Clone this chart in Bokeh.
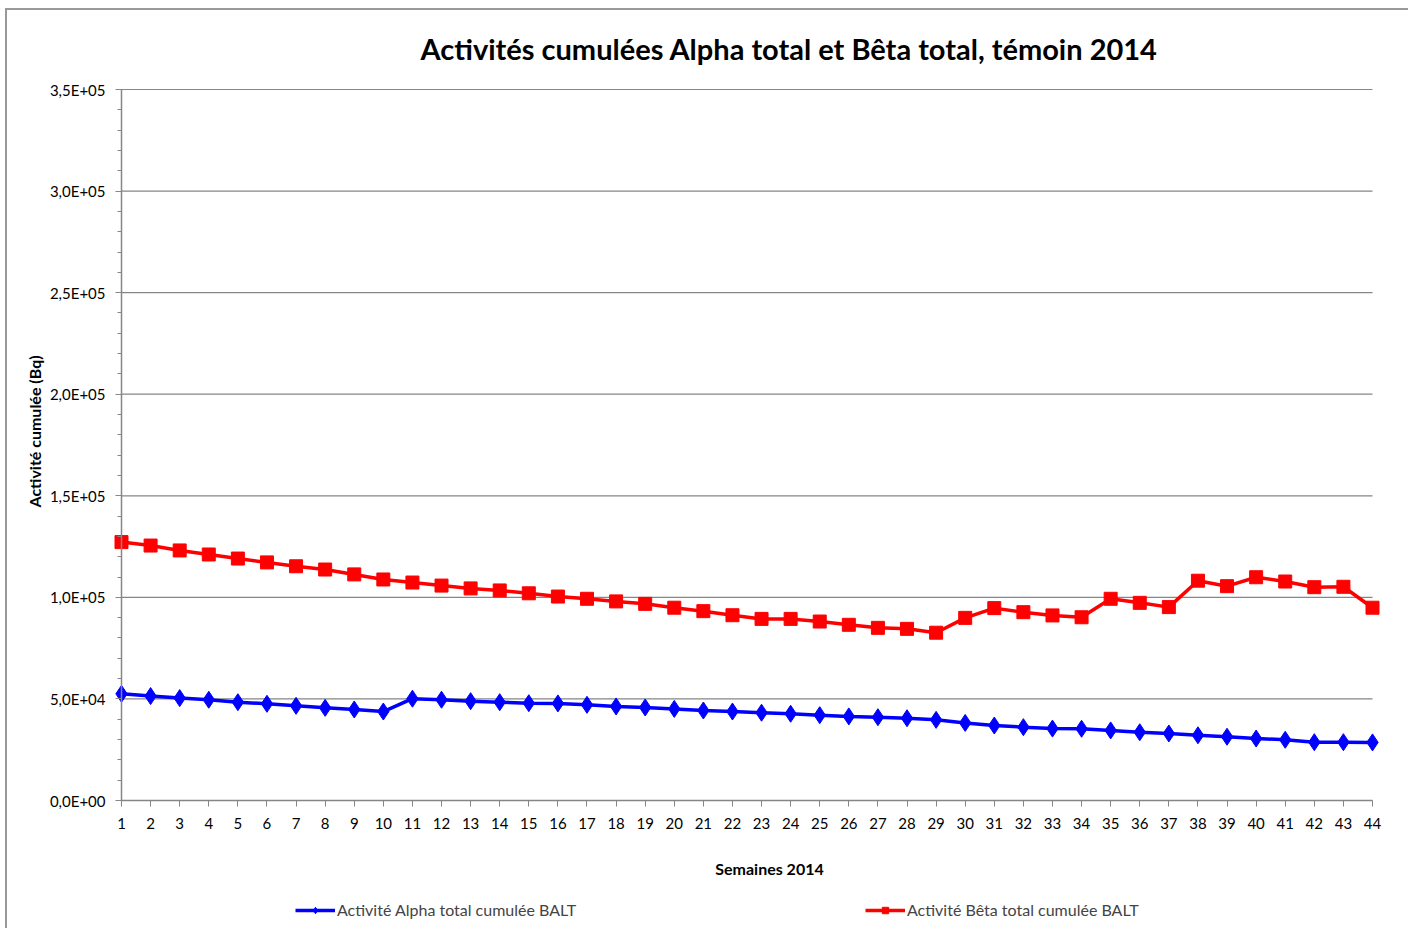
from bokeh.plotting import figure
from bokeh.models import FixedTicker, Legend, LegendItem, Range1d, Title, Label
from bokeh.embed import file_html
from bokeh.resources import INLINE

weeks = list(range(1, 45))
alpha = [52.5, 51.4, 50.4, 49.6, 48.4, 47.6, 46.6, 45.6, 44.8, 43.8,
         50.1, 49.6, 48.9, 48.4, 47.9, 47.8, 47.1, 46.3, 45.8, 45.1,
         44.3, 43.8, 43.2, 42.7, 42.0, 41.4, 41.0, 40.5, 39.7, 38.2,
         36.9, 36.1, 35.4, 35.3, 34.5, 33.6, 33.0, 32.1, 31.4, 30.5,
         29.9, 28.7, 28.7, 28.6]
beta = [127.2, 125.5, 123.1, 121.1, 119.1, 117.2, 115.3, 113.7, 111.3, 108.8,
        107.3, 105.8, 104.4, 103.4, 102.0, 100.4, 99.3, 98.0, 96.8, 94.9,
        93.2, 91.2, 89.4, 89.4, 88.1, 86.5, 85.0, 84.5, 82.6, 89.9,
        94.7, 92.7, 91.1, 90.2, 99.3, 97.3, 95.2, 108.2, 105.5, 109.9,
        107.8, 105.0, 105.2, 94.9]
alpha_bq = [v * 1000 for v in alpha]
beta_bq = [v * 1000 for v in beta]

y_ticks = [0, 50000, 100000, 150000, 200000, 250000, 300000, 350000]
y_tick_labels = ["0,0E+00", "5,0E+04", "1,0E+05", "1,5E+05", "2,0E+05",
                 "2,5E+05", "3,0E+05", "3,5E+05"]

title_text = "Activités cumulées Alpha total et Bêta total, témoin 2014"
x_label = "Semaines 2014"
y_label = "Activité cumulée (Bq)"
alpha_name = "Activité Alpha total cumulée BALT"
beta_name = "Activité Bêta total cumulée BALT"

FONT = "Lato"
GRAY = "#868686"

# ---- layout in pixels ----
W, H = 1408, 928
FRAME_L, FRAME_R, FRAME_T = 45, 1395, 76      # drawing area (unclipped zone)
AX_L, AX_R, AX_T, AX_B = 121, 1372, 89, 800   # axis box: weeks 1..44, 0..3.5e5
x_lo, x_hi = weeks[0], weeks[-1]
y_max = y_ticks[-1]
ppx = (AX_R - AX_L) / (x_hi - x_lo)
ppy = (AX_B - AX_T) / y_max
x_start = x_lo - (AX_L - FRAME_L) / ppx
x_end = x_hi + (FRAME_R - AX_R) / ppx
y_start = -(H - AX_B) / ppy
y_end = y_max + (AX_T - FRAME_T) / ppy

p = figure(width=W, height=H, output_backend="svg", toolbar_location=None,
           x_range=Range1d(x_start, x_end), y_range=Range1d(y_start, y_end),
           min_border_left=FRAME_L, min_border_right=W - FRAME_R,
           min_border_top=FRAME_T, min_border_bottom=0)
p.outline_line_color = None
p.background_fill_color = "white"
p.border_fill_alpha = 0
p.styles = {
    "background": "linear-gradient(#999, #999) 5px 8px / 2px 100% no-repeat, "
                  "linear-gradient(#999, #999) 5px 8px / 100% 2px no-repeat, white"
}

t = Title(text=title_text, align="left", offset=420 - FRAME_L, text_font=FONT,
          text_font_size="29px", text_font_style="bold", text_color="black",
          standoff=22)
p.add_layout(t, "above")

# horizontal gridlines limited to the week span
p.xgrid.grid_line_color = None
p.ygrid.grid_line_color = None
p.segment(x0=[x_lo] * len(y_ticks), y0=y_ticks, x1=[x_hi] * len(y_ticks),
          y1=y_ticks, line_color=GRAY, line_width=1.2, level="underlay")

# axes (drawn at fixed positions inside the frame)
p.xaxis.ticker = FixedTicker(ticks=weeks)
p.xaxis.fixed_location = 0
p.xaxis.bounds = (x_lo, x_hi)
p.yaxis.ticker = FixedTicker(ticks=y_ticks,
                             minor_ticks=list(range(0, y_max + 1, 10000)))
p.yaxis.major_label_overrides = {t_: l for t_, l in zip(y_ticks, y_tick_labels)}
p.yaxis.fixed_location = x_lo
p.yaxis.bounds = (0, y_max)
for ax in (p.xaxis[0], p.yaxis[0]):
    ax.axis_line_color = GRAY
    ax.axis_line_width = 1.5
    ax.major_tick_line_color = GRAY
    ax.minor_tick_line_color = GRAY
    ax.major_tick_in = 0
    ax.major_tick_out = 6
    ax.minor_tick_in = 0
    ax.minor_tick_out = 4
    ax.major_label_text_font = FONT
    ax.major_label_text_font_size = "15px"
    ax.major_label_text_color = "black"
p.xaxis.minor_tick_out = 0
p.xaxis.major_label_standoff = 11
p.yaxis.major_label_standoff = 10

ylab = Title(text=y_label, align="left", offset=H - 507, text_font=FONT,
             text_font_size="16px", text_font_style="bold", text_color="black",
             standoff=3)
p.add_layout(ylab, "left")

xlab = Label(x=x_lo + (769 - AX_L) / ppx, y=-(868 - AX_B) / ppy, text=x_label,
             text_font=FONT, text_font_size="16px", text_font_style="bold",
             text_color="black", text_align="center", text_baseline="middle")
p.add_layout(xlab)

la = p.line(weeks, alpha_bq, line_color="#0000FF", line_width=3.5)
sa = p.scatter(weeks, alpha_bq, marker="diamond", size=17, fill_color="#0000FF",
               line_color="#0000FF")
lb = p.line(weeks, beta_bq, line_color="#FF0000", line_width=3.5)
sb = p.scatter(weeks, beta_bq, marker="square", size=13, fill_color="#FF0000",
               line_color="#FF0000")

legend = Legend(items=[LegendItem(label=alpha_name, renderers=[la, sa]),
                       LegendItem(label=beta_name, renderers=[lb, sb])],
                orientation="horizontal", location=(295 - FRAME_L, 9),
                label_text_font=FONT, label_text_font_size="16px",
                glyph_width=40, glyph_height=16, label_standoff=2,
                label_width=291, spacing=237,
                padding=0, margin=0, border_line_color=None,
                background_fill_alpha=0)
p.add_layout(legend, "center")

open("out.html", "w").write(file_html(p, INLINE))
